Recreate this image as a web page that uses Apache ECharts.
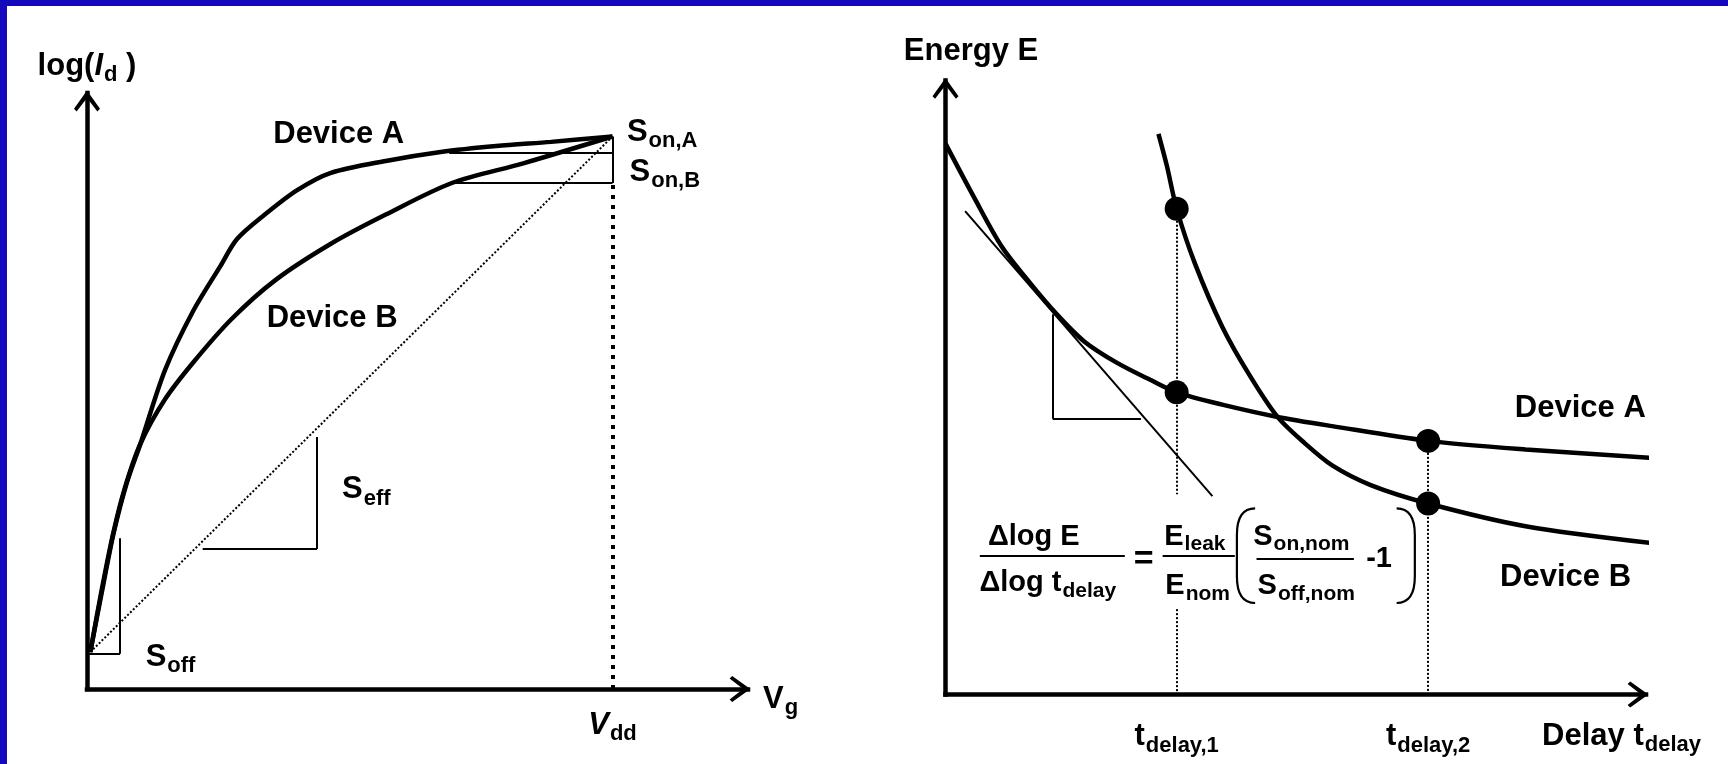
<!DOCTYPE html>
<html><head><meta charset="utf-8">
<script src="https://cdn.jsdelivr.net/npm/echarts@6/dist/echarts.min.js"></script>
<style>
html,body{margin:0;padding:0;background:#fff;overflow:hidden;}
#c{position:absolute;left:0;top:0;width:1728px;height:764px;}
.bt{position:absolute;left:0;top:0;width:1728px;height:6px;background:#1409bd;}
.bl{position:absolute;left:0;top:0;width:7px;height:764px;background:#1409bd;}
</style></head><body>
<div id="c"></div><div class="bt"></div><div class="bl"></div>
<script>
// ---------- Left panel: log(I_d) versus V_g (schematic units 0..100) ----------
const vgDeviceA    = [0.5, 2.2, 4.0, 6.0, 8.1, 11.8, 16.0, 20.2, 22.7, 26.9, 31.8, 36.9, 45.2, 53.5, 61.9, 70.2, 79.5];
const logIdDeviceA = [6.2, 16.0, 26.0, 34.5, 41.2, 53.5, 63.3, 71.0, 75.5, 79.6, 83.7, 86.6, 88.6, 90.1, 91.1, 91.8, 92.7];
const vgDeviceB    = [0.5, 2.2, 4.0, 5.8, 8.1, 11.8, 16.0, 21.8, 28.5, 36.9, 45.2, 55.2, 66.0, 79.5];
const logIdDeviceB = [6.2, 16.5, 26.3, 34.0, 41.2, 48.6, 54.7, 62.0, 68.6, 74.7, 79.6, 84.9, 88.2, 92.7];
const vdd = 79.5;          // V_dd position on the V_g axis
const sOnALevel = 90.0;    // foot of the S_on,A triangle
const sOnBLevel = 84.9;    // foot of the S_on,B triangle
const xLabelsLeft = [vdd];

// ---------- Right panel: Energy E versus delay t_delay ----------
const tDeviceA = [0, 4.1, 8.0, 12.0, 15.9, 19.8, 24.5, 29.3, 33.0, 39.5, 47.4, 55.2, 68.9, 82.8, 101.2];
const eDeviceA = [89.7, 80.9, 73.0, 67.1, 61.9, 57.5, 54.0, 51.2, 49.2, 47.2, 45.2, 43.7, 41.3, 39.9, 38.5];
const tDeviceB = [30.4, 31.6, 33.0, 35.6, 39.5, 43.4, 47.4, 51.3, 55.2, 60.7, 68.9, 82.8, 101.2];
const eDeviceB = [91.3, 86.1, 79.1, 70.2, 59.9, 52.0, 45.2, 40.9, 37.3, 34.1, 31.1, 27.4, 24.6];
const tDelay = [33.0, 68.9];                 // t_delay,1 and t_delay,2
const dotT = [33.0, 33.0, 68.9, 68.9];
const dotE = [79.1, 49.2, 41.3, 31.1];
const tangentT = [2.8, 38.1];
const tangentE = [78.7, 32.3];
const tLabels = ['{b|t}{s|delay,1}', '{b|t}{s|delay,2}'];

// ---------- annotation layout (data space) ----------
const sEffTri = {x0: 17.5, x1: 34.8, yLow: 23.5, yHigh: 42.3};
const sOffTri = {x0: 0.3, x1: 5.0, yLow: 5.9, yHigh: 25.3};
const sOnAStart = 54.8, sOnBStart = 55.6;
const slopeTri = {x0: 15.3, x1: 27.9, yLow: 44.9, yHigh: 61.9};
const t1Gap = [32.6, 13.9];
const fracLines = [[4.9, 25.6, 22.6], [31.0, 41.3, 22.6], [44.4, 58.3, 22.1]];
const parens = [[42.9, 22.6, -1], [65.7, 22.6, 1]];
const parenHalf = 7.7, parenW = 2.6;

const leftTexts = [
  [28.1, 93.1, '{b|Device A}'],
  [27.1, 62.1, '{b|Device B}'],
  [81.6, 93.4, '{b|S}{s|on,A}'],
  [82.0, 86.7, '{b|S}{s|on,B}'],
  [38.5, 33.4, '{b|S}{s|eff}'],
  [8.8, 5.3, '{b|S}{s|off}']
];
const rightTexts = [
  [81.2, 46.5, '{b|Device A}'],
  [79.1, 19.1, '{b|Device B}']
];
const formulaTexts = [
  [12.6, 25.7, '{f|Δlog E}'],
  [14.6, 18.2, '{f|Δlog t}{fs|delay}'],
  [28.3, 21.9, '{eq|=}'],
  [35.6, 25.7, '{f|E}{fs|leak}'],
  [36.0, 17.6, '{f|E}{fs|nom}'],
  [50.8, 25.7, '{f|S}{fs|on,nom}'],
  [51.5, 17.6, '{f|S}{fs|off,nom}'],
  [61.9, 22.0, '{f|-1}']
];

// ---------- styles ----------
const F = '"Liberation Sans", Arial, Helvetica, sans-serif';
const K = '#000';
const RICH = {
  b:  {fontFamily: F, fontWeight: 'bold', fontSize: 31, color: K, lineHeight: 40},
  bi: {fontFamily: F, fontWeight: 'bold', fontStyle: 'italic', fontSize: 31, color: K, lineHeight: 40},
  s:  {fontFamily: F, fontWeight: 'bold', fontSize: 22, color: K, padding: [18, 0, 0, 1]},
  f:  {fontFamily: F, fontWeight: 'bold', fontSize: 29, color: K, lineHeight: 36},
  fs: {fontFamily: F, fontWeight: 'bold', fontSize: 21, color: K, padding: [16, 0, 0, 1]},
  eq: {fontFamily: F, fontWeight: 'bold', fontSize: 34, color: K, lineHeight: 36}
};
const CHEV = 'path://M50,0 L100,70 L90,80 L50,28 L10,80 L0,70 Z';

function zip(a, b) { return a.map((v, i) => [v, b[i]]); }
function axisLine() {
  return {show: true, onZero: false, symbol: ['none', CHEV], symbolSize: [26, 21], symbolOffset: [0, -8],
          lineStyle: {color: K, width: 4.5, cap: 'square'}};
}
function curve(name, xs, ys, idx) {
  return {type: 'line', name, xAxisIndex: idx, yAxisIndex: idx, data: zip(xs, ys), symbol: 'none',
          smooth: 0.3, clip: false, silent: true, z: 5,
          lineStyle: {color: K, width: 4.5}};
}
function seg(a, b, style) { return [{coord: a, lineStyle: style}, {coord: b, lineStyle: style}]; }
function texts(list, idx, pos) {
  return {type: 'scatter', xAxisIndex: idx, yAxisIndex: idx, clip: false, silent: true, z: 8,
          symbolSize: 1, itemStyle: {color: 'rgba(0,0,0,0)', opacity: 1},
          data: list.map(t => ({value: [t[0], t[1]], label: {formatter: t[2]}})),
          label: {show: true, position: pos, distance: 0, color: K, opacity: 1, rich: RICH}};
}
const thin = {color: K, width: 2, type: 'solid'};
const dotThin = {color: K, width: 2, type: 'dotted'};
const dotThick = {color: K, width: 4, type: [4, 6]};

const chart = echarts.init(document.getElementById('c'), null, {renderer: 'canvas'});
chart.setOption({
  animation: false,
  backgroundColor: 'transparent',
  grid: [
    {left: 87, top: 93, width: 661, height: 596},
    {left: 945.5, top: 80.4, width: 700.5, height: 614.1}
  ],
  xAxis: [
    {type: 'value', gridIndex: 0, min: 0, max: 100, axisLine: axisLine(), axisTick: {show: false}, splitLine: {show: false},
     axisLabel: {show: true, customValues: xLabelsLeft, margin: 16, formatter: () => '{bi|V}{s|dd}', rich: RICH},
     name: '{b|V}{s|g}', nameLocation: 'end', nameGap: 15, nameTextStyle: {rich: RICH, padding: [20, 0, 0, 0]}},
    {type: 'value', gridIndex: 1, min: 0, max: 100, axisLine: axisLine(), axisTick: {show: false}, splitLine: {show: false},
     axisLabel: {show: true, customValues: tDelay, margin: 22, rich: RICH,
                 formatter: (v) => tLabels[tDelay.indexOf(v)] || ''},
     name: '{b|Delay t}{s|delay}', nameLocation: 'end', nameGap: 55,
     nameTextStyle: {rich: RICH, align: 'right', padding: [83, 0, 0, 0]}}
  ],
  yAxis: [
    {type: 'value', gridIndex: 0, min: 0, max: 100, axisLine: axisLine(), axisTick: {show: false}, splitLine: {show: false},
     axisLabel: {show: false},
     name: '{b|log(}{bi|I}{s|d}{b| )}', nameLocation: 'end', nameGap: 7, nameTextStyle: {rich: RICH}},
    {type: 'value', gridIndex: 1, min: 0, max: 100, axisLine: axisLine(), axisTick: {show: false}, splitLine: {show: false},
     axisLabel: {show: false},
     name: '{b|Energy E}', nameLocation: 'end', nameGap: 9, nameTextStyle: {rich: RICH, padding: [0, 0, 0, 51]}}
  ],
  series: [
    curve('Device A', vgDeviceA, logIdDeviceA, 0),
    curve('Device B', vgDeviceB, logIdDeviceB, 0),
    {type: 'line', xAxisIndex: 0, yAxisIndex: 0, symbol: 'none', clip: false, silent: true, z: 3,
     data: [[vgDeviceA[0], logIdDeviceA[0]], [vdd, logIdDeviceA[logIdDeviceA.length - 1]]],
     lineStyle: dotThin,
     markLine: {silent: true, symbol: ['none', 'none'], label: {show: false}, emphasis: {disabled: true},
       data: [
         seg([vdd, 0], [vdd, sOnBLevel], dotThick),
         seg([vdd, sOnBLevel], [vdd, logIdDeviceA[logIdDeviceA.length - 1]], thin),
         seg([sOnAStart, sOnALevel], [vdd, sOnALevel], thin),
         seg([sOnBStart, sOnBLevel], [vdd, sOnBLevel], thin),
         seg([sEffTri.x1, sEffTri.yHigh], [sEffTri.x1, sEffTri.yLow], thin),
         seg([sEffTri.x0, sEffTri.yLow], [sEffTri.x1, sEffTri.yLow], thin),
         seg([sOffTri.x1, sOffTri.yHigh], [sOffTri.x1, sOffTri.yLow], thin),
         seg([sOffTri.x0, sOffTri.yLow], [sOffTri.x1, sOffTri.yLow], thin)
       ]}},
    texts(leftTexts, 0, 'right'),

    curve('Device A', tDeviceA, eDeviceA, 1),
    curve('Device B', tDeviceB, eDeviceB, 1),
    {type: 'line', xAxisIndex: 1, yAxisIndex: 1, symbol: 'none', clip: false, silent: true, z: 3,
     data: zip(tangentT, tangentE), lineStyle: thin,
     markLine: {silent: true, symbol: ['none', 'none'], label: {show: false}, emphasis: {disabled: true},
       data: [
         seg([tDelay[0], dotE[0]], [tDelay[0], t1Gap[0]], dotThin),
         seg([tDelay[0], t1Gap[1]], [tDelay[0], 0], dotThin),
         seg([tDelay[1], dotE[2]], [tDelay[1], 0], dotThin),
         seg([slopeTri.x0, slopeTri.yHigh], [slopeTri.x0, slopeTri.yLow], thin),
         seg([slopeTri.x0, slopeTri.yLow], [slopeTri.x1, slopeTri.yLow], thin)
       ].concat(fracLines.map(l => seg([l[0], l[2]], [l[1], l[2]], thin)))}},
    {type: 'scatter', xAxisIndex: 1, yAxisIndex: 1, data: zip(dotT, dotE), symbol: 'circle', symbolSize: 24,
     itemStyle: {color: K, opacity: 1}, silent: true, z: 7, clip: false},
    {type: 'custom', xAxisIndex: 1, yAxisIndex: 1, silent: true, z: 6, data: parens,
     renderItem: function (params, api) {
       const x = api.value(0), y = api.value(1), side = api.value(2);
       const top = api.coord([x, y + parenHalf]);
       const bot = api.coord([x, y - parenHalf]);
       const w = api.size([parenW, 0])[0];
       const xo = top[0] + side * w / 2, xe = top[0] - side * w / 2;
       const r = (bot[1] - top[1]) * 0.28;
       const d = 'M' + xe + ',' + top[1] + ' Q' + xo + ',' + top[1] + ' ' + xo + ',' + (top[1] + r) +
                 ' L' + xo + ',' + (bot[1] - r) + ' Q' + xo + ',' + bot[1] + ' ' + xe + ',' + bot[1];
       return {type: 'path', shape: {pathData: d}, style: {stroke: K, fill: null, lineWidth: 2.2}};
     }},
    texts(rightTexts, 1, 'right'),
    texts(formulaTexts, 1, 'inside')
  ]
});
</script>
</body></html>
